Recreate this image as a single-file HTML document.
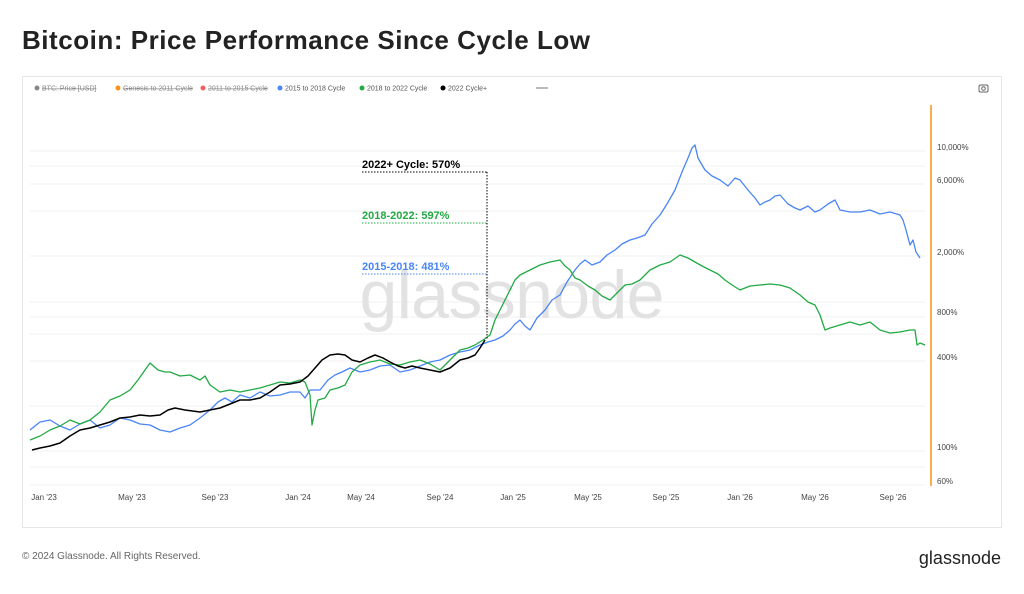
<!DOCTYPE html>
<html><head><meta charset="utf-8"><style>
body{margin:0;background:#fff;font-family:"Liberation Sans",sans-serif;}
</style></head><body>
<svg width="1024" height="589" xmlns="http://www.w3.org/2000/svg" font-family="Liberation Sans, sans-serif">
<rect width="1024" height="589" fill="#fff"/>
<text x="22" y="49" font-size="26" fill="#222" font-weight="bold" textLength="568">Bitcoin: Price Performance Since Cycle Low</text>
<rect x="22.5" y="76.5" width="979" height="451" fill="#fff" stroke="#e6e6e6"/>
<g font-size="7" fill="#555">
<circle cx="37" cy="88" r="2.5" fill="#888"/><text x="42" y="90.5" fill="#888" text-decoration="line-through">BTC: Price [USD]</text>
<circle cx="118" cy="88" r="2.5" fill="#f7931a"/><text x="123" y="90.5" fill="#888" text-decoration="line-through">Genesis to 2011 Cycle</text>
<circle cx="203" cy="88" r="2.5" fill="#f06060"/><text x="208" y="90.5" fill="#888" text-decoration="line-through">2011 to 2015 Cycle</text>
<circle cx="280" cy="88" r="2.5" fill="#4a85f5"/><text x="285" y="90.5">2015 to 2018 Cycle</text>
<circle cx="362" cy="88" r="2.5" fill="#22aa44"/><text x="367" y="90.5">2018 to 2022 Cycle</text>
<circle cx="443" cy="88" r="2.5" fill="#000"/><text x="448" y="90.5">2022 Cycle+</text>
<line x1="536" y1="88" x2="548" y2="88" stroke="#555" stroke-width="0.8"/>
</g>
<rect x="979" y="85" width="9" height="7" rx="1.5" fill="none" stroke="#666"/><circle cx="983.5" cy="88.5" r="1.8" fill="none" stroke="#666"/>
<g stroke="#f0f0f0" stroke-width="1">
<line x1="30" x2="925" y1="151" y2="151"/><line x1="30" x2="925" y1="166" y2="166"/><line x1="30" x2="925" y1="184" y2="184"/>
<line x1="30" x2="925" y1="211" y2="211"/><line x1="30" x2="925" y1="256" y2="256"/><line x1="30" x2="925" y1="302" y2="302"/>
<line x1="30" x2="925" y1="317" y2="317"/><line x1="30" x2="925" y1="334" y2="334"/><line x1="30" x2="925" y1="361" y2="361"/>
<line x1="30" x2="925" y1="406" y2="406"/><line x1="30" x2="925" y1="451" y2="451"/><line x1="30" x2="925" y1="467" y2="467"/>
<line x1="30" x2="925" y1="485" y2="485"/>
</g>
<line x1="931" y1="105" x2="931" y2="486" stroke="#f7931a" stroke-width="1.5"/>
<g font-size="8" fill="#444">
<text x="937" y="150">10,000%</text><text x="937" y="183">6,000%</text><text x="937" y="255">2,000%</text>
<text x="937" y="315">800%</text><text x="937" y="360">400%</text><text x="937" y="450">100%</text><text x="937" y="484">60%</text>
</g>
<g font-size="8" fill="#444" text-anchor="middle">
<text x="44" y="500">Jan '23</text><text x="132" y="500">May '23</text><text x="215" y="500">Sep '23</text>
<text x="298" y="500">Jan '24</text><text x="361" y="500">May '24</text><text x="440" y="500">Sep '24</text>
<text x="513" y="500">Jan '25</text><text x="588" y="500">May '25</text><text x="666" y="500">Sep '25</text>
<text x="740" y="500">Jan '26</text><text x="815" y="500">May '26</text><text x="893" y="500">Sep '26</text>
</g>
<text x="512" y="318" font-size="68" fill="#e2e2e2" text-anchor="middle" textLength="305">glassnode</text>
<polyline fill="none" stroke="#4a85f5" stroke-width="1.3" stroke-linejoin="round" points="30,430 40,422 50,420 60,426 70,430 80,424 90,420 100,428 110,425 120,418 130,420 140,424 150,425 160,430 170,432 180,428 190,425 200,418 210,410 218,402 225,398 232,402 240,395 250,398 260,392 270,396 280,395 290,392 300,392 305,398 310,390 320,390 328,380 335,375 342,372 350,368 360,372 370,370 380,366 390,365 400,372 410,370 420,366 430,362 440,360 450,355 460,352 470,350 480,345 488,342 495,340 503,336 510,330 515,324 520,320 525,326 530,330 537,318 545,310 552,300 560,295 567,282 575,270 580,264 585,260 592,265 600,262 607,255 615,250 622,244 630,240 637,238 645,235 652,224 660,215 667,204 675,190 682,172 688,158 692,148 695,145 698,158 702,165 705,170 712,176 720,180 728,186 735,178 740,180 748,190 755,198 760,205 765,202 770,200 775,196 780,195 788,204 795,208 800,210 808,206 815,212 820,210 828,204 835,200 840,210 850,212 860,212 870,210 880,214 890,212 900,215 903,220 906,230 910,245 913,240 916,252 920,258"/>
<polyline fill="none" stroke="#22aa44" stroke-width="1.3" stroke-linejoin="round" points="30,440 40,436 50,430 60,426 70,420 80,424 90,420 100,412 110,400 120,396 130,390 138,380 145,370 150,363 158,370 165,372 170,372 180,376 190,375 200,380 205,376 210,385 220,392 230,390 240,392 250,390 260,388 270,385 280,382 290,383 300,380 305,382 310,395 312,425 315,410 318,400 325,398 330,390 338,388 345,385 352,372 360,365 370,362 380,360 390,364 400,365 410,362 420,360 430,364 440,370 450,360 460,350 468,348 475,345 483,340 490,335 495,320 500,310 505,300 510,290 515,280 520,275 530,270 540,265 550,262 560,260 565,266 570,270 575,278 580,280 588,286 595,290 602,296 610,300 618,292 625,285 632,284 640,280 650,270 660,265 670,262 680,255 688,258 695,262 702,266 710,270 718,274 725,280 732,285 740,290 750,286 760,285 770,284 780,285 790,288 800,295 808,302 815,305 820,315 825,330 830,328 840,325 850,322 860,325 870,322 880,330 890,333 900,332 910,330 915,330 917,345 920,343 925,345"/>
<polyline fill="none" stroke="#000" stroke-width="1.5" stroke-linejoin="round" points="32,450 40,448 50,446 60,443 70,436 80,430 90,428 100,425 110,422 120,418 130,417 140,415 150,416 160,415 168,410 175,408 185,410 200,412 210,410 220,408 230,404 240,400 250,400 260,398 270,392 280,385 290,384 300,382 308,376 315,368 322,360 330,355 338,354 345,355 352,360 360,362 368,358 375,355 383,358 390,362 398,366 405,368 412,366 420,368 430,370 440,372 450,368 460,360 468,358 475,355 480,348 485,340"/>
<line x1="487" y1="172" x2="487" y2="340" stroke="#000" stroke-width="1" stroke-dasharray="1.5,1.5"/>
<line x1="362" y1="172" x2="487" y2="172" stroke="#000" stroke-width="1" stroke-dasharray="1.5,1.5"/>
<line x1="362" y1="223" x2="487" y2="223" stroke="#22aa44" stroke-width="1" stroke-dasharray="1.5,1.5"/>
<line x1="362" y1="274" x2="487" y2="274" stroke="#4a85f5" stroke-width="1" stroke-dasharray="1.5,1.5"/>
<text x="362" y="168" font-size="11" fill="#000" font-weight="bold">2022+ Cycle: 570%</text>
<text x="362" y="219" font-size="11" fill="#22aa44" font-weight="bold">2018-2022: 597%</text>
<text x="362" y="270" font-size="11" fill="#4a85f5" font-weight="bold">2015-2018: 481%</text>
<text x="22" y="559" font-size="10" fill="#666">© 2024 Glassnode. All Rights Reserved.</text>
<text x="1001" y="564" font-size="18" fill="#222" text-anchor="end">glassnode</text>
</svg>
</body></html>
